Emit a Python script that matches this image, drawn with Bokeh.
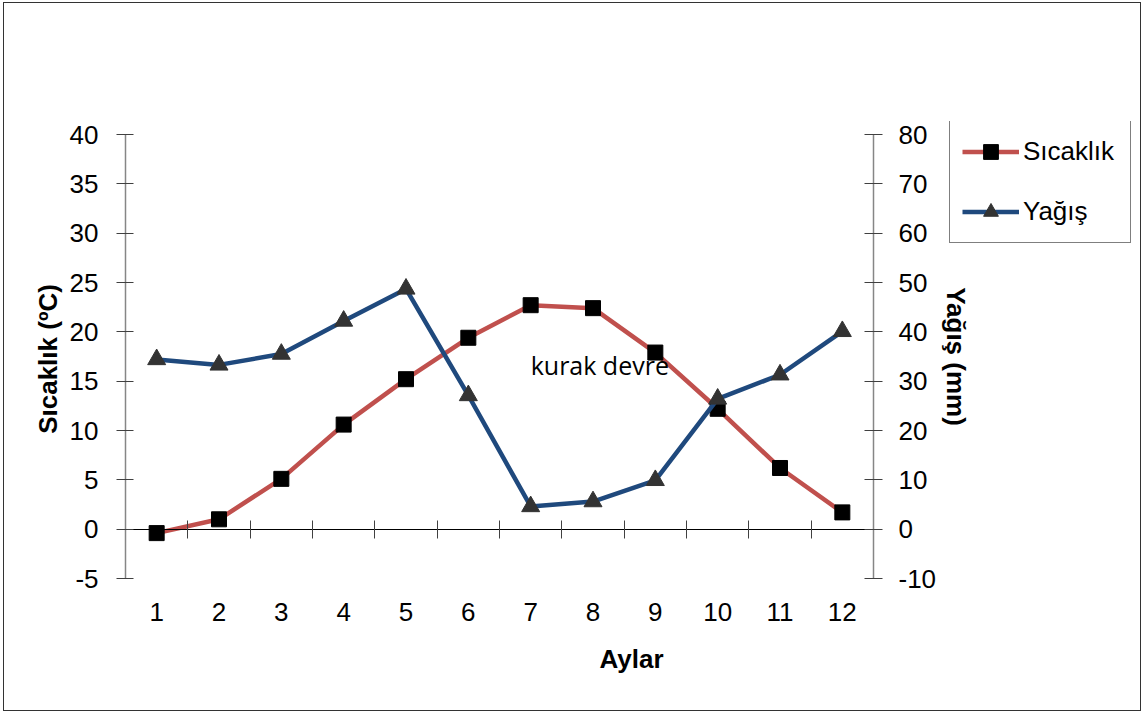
from bokeh.plotting import figure
from bokeh.models import Range1d, LinearAxis, FixedTicker, Legend, LegendItem, Label
from bokeh.embed import file_html
from bokeh.resources import INLINE

# ---- data ----
aylar = [1, 2, 3, 4, 5, 6, 7, 8, 9, 10, 11, 12]
sicaklik = [-0.4, 1.0, 5.1, 10.6, 15.2, 19.4, 22.7, 22.4, 17.9, 12.2, 6.2, 1.7]
yagis = [34.4, 33.3, 35.5, 42.2, 48.7, 27.1, 4.6, 5.6, 9.9, 26.4, 31.3, 40.1]
left_ticks = [-5, 0, 5, 10, 15, 20, 25, 30, 35, 40]
right_ticks = [-10, 0, 10, 20, 30, 40, 50, 60, 70, 80]
cat_edges = [0.5 + i for i in range(13)]

FONT = "Liberation Sans"
FS = "26px"

# canvas placed at page (7, 6); sizes in canvas pixels
OX, OY = 7, 6
W, H = 1130, 701
FL, FT, FB = 125 - OX, 121 - OY, 596 - OY     # frame left / top / bottom
XR = 0.5 + 12 * (W - FL) / 748.0               # categories 0.5..12.5 span 748 px
PPU = 444 / 45.0                               # px per degree
Y_TOP = 40 + (134 - 121) / PPU
Y_BOT = -5 - (596 - 578) / PPU

p = figure(width=W, height=H, output_backend="svg", toolbar_location=None,
           x_range=Range1d(0.5, XR), y_range=Range1d(Y_BOT, Y_TOP),
           min_border_left=FL, min_border_right=0,
           min_border_top=FT, min_border_bottom=H - FB,
           background_fill_color="white", border_fill_color="white")
p.styles = {"margin": f"{OY}px 0px 0px {OX}px",
            "outline": "1px solid #333333", "outline-offset": "3px"}
p.outline_line_color = None
p.grid.visible = False
p.extra_y_ranges = {"yagis": Range1d(2 * Y_BOT, 2 * Y_TOP)}

# bottom labels axis
xa = p.xaxis[0]
xa.ticker = FixedTicker(ticks=aylar)
xa.axis_line_color = None
xa.major_tick_line_color = None
xa.minor_tick_line_color = None
xa.major_tick_in = 0
xa.major_tick_out = 0
xa.major_label_standoff = 6
xa.major_label_text_font = FONT
xa.major_label_text_font_size = FS
xa.major_label_text_color = "black"
xa.axis_label = "Aylar"
xa.axis_label_text_font = FONT
xa.axis_label_text_font_size = FS
xa.axis_label_text_font_style = "bold"
xa.axis_label_text_color = "black"
xa.axis_label_standoff = 20

# x axis line at y = 0
x0 = LinearAxis(fixed_location=0, ticker=FixedTicker(ticks=cat_edges), bounds=(0.5, 12.5))
x0.axis_line_color = "black"
x0.axis_line_width = 1
x0.major_tick_line_color = "#404040"
x0.major_tick_in = 9
x0.major_tick_out = 9
x0.minor_tick_line_color = None
x0.major_label_text_font_size = "0px"
x0.major_label_standoff = 0
p.add_layout(x0, "below")

# left axis
ya = p.yaxis[0]
ya.ticker = FixedTicker(ticks=left_ticks)
ya.bounds = (-5, 40)
ya.major_label_overrides = {-5: "-5"}
ya.axis_line_color = "#868686"
ya.axis_line_width = 1.5
ya.major_tick_line_color = "#404040"
ya.major_tick_in = 8
ya.major_tick_out = 9
ya.minor_tick_line_color = None
ya.major_label_standoff = 18
ya.major_label_text_font = FONT
ya.major_label_text_font_size = FS
ya.major_label_text_color = "black"
ya.axis_label = "Sıcaklık (ºC)"
ya.axis_label_text_font = FONT
ya.axis_label_text_font_size = FS
ya.axis_label_text_font_style = "bold"
ya.axis_label_text_color = "black"
ya.axis_label_standoff = 4

# right axis, pinned at the right edge of the categories
ra = LinearAxis(y_range_name="yagis", ticker=FixedTicker(ticks=right_ticks),
                fixed_location=12.5, bounds=(-10, 80))
ra.major_label_overrides = {-10: "-10"}
ra.axis_line_color = "#868686"
ra.axis_line_width = 1.5
ra.major_tick_line_color = "#404040"
ra.major_tick_in = 9
ra.major_tick_out = 9
ra.minor_tick_line_color = None
ra.major_label_standoff = 16
ra.major_label_text_font = FONT
ra.major_label_text_font_size = FS
ra.major_label_text_color = "black"
ra.axis_label = "Yağış (mm)"
ra.axis_label_text_font = FONT
ra.axis_label_text_font_size = FS
ra.axis_label_text_font_style = "bold"
ra.axis_label_text_color = "black"
ra.axis_label_standoff = 2
p.add_layout(ra, "right")

# series
RED = "#C0504D"
BLUE = "#1F497D"
l1 = p.line(aylar, sicaklik, line_color=RED, line_width=4.5, line_join="round")
m1 = p.scatter(aylar, sicaklik, marker="square", size=15, fill_color="black", line_color="black")
l2 = p.line(aylar, yagis, y_range_name="yagis", line_color=BLUE, line_width=4.5, line_join="round")
m2 = p.scatter(aylar, yagis, y_range_name="yagis", marker="triangle", size=18,
               fill_color="#333333", line_color="#333333")

p.add_layout(Label(x=7, y=16.6, text="kurak devre", text_font="Open Sans",
                   text_font_size="25px", text_color="black",
                   text_baseline="alphabetic", text_align="left"))

legend = Legend(items=[LegendItem(label="Sıcaklık", renderers=[l1, m1]),
                       LegendItem(label="Yağış", renderers=[l2, m2])],
                location=(949 - 125, 596 - 243), orientation="vertical")
legend.label_text_font = FONT
legend.label_text_font_size = FS
legend.label_text_color = "black"
legend.glyph_width = 57
legend.glyph_height = 37
legend.label_height = 37
legend.label_width = 95
legend.label_standoff = 4
legend.spacing = 23
legend.padding = 12
legend.margin = 0
legend.border_line_color = "black"
legend.border_line_width = 1
legend.background_fill_color = "white"
legend.background_fill_alpha = 1
p.add_layout(legend)

open("out.html", "w").write(file_html(p, INLINE))
